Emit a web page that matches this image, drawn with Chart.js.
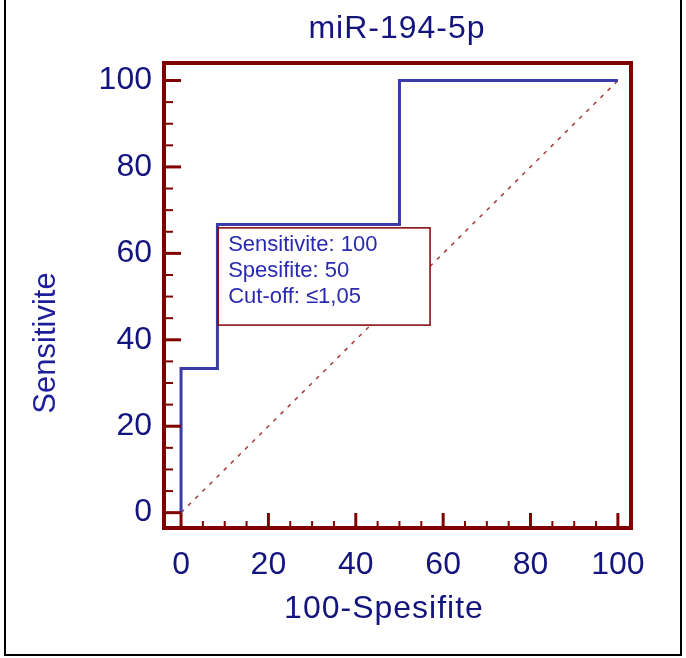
<!DOCTYPE html>
<html>
<head>
<meta charset="utf-8">
<script src="https://cdn.jsdelivr.net/npm/chart.js@4.4.1/dist/chart.umd.min.js"></script>
<style>
  html, body { margin: 0; padding: 0; background: #fff; }
  #wrap { width: 686px; height: 658px; position: relative; }
</style>
</head>
<body>
<div id="wrap"><canvas id="c"></canvas></div>
<script>
// ---- data ----
const chartTitle = "miR-194-5p";
const xTitle = "100-Spesifite";
const yTitle = "Sensitivite";
// ROC curve vertices
const fpr  = [0, 0,     8.33,  8.33,  50,    50,  100];   // 100-Spesifite
const sens = [0, 33.33, 33.33, 66.67, 66.67, 100, 100];   // Sensitivite
const refX = [0, 100];
const refY = [0, 100];
const majorTicks = [0, 20, 40, 60, 80, 100];
const minorTicks = [5, 10, 15, 25, 30, 35, 45, 50, 55, 65, 70, 75, 85, 90, 95];
const infoLines = ["Sensitivite: 100", "Spesifite: 50", "Cut-off: \u22641,05"];

const MAROON = '#800000';
const NAVY = '#14147f';
const CURVE = '#3a3aa8';
const FONT = '"Liberation Sans", Arial, sans-serif';

const allTicks = majorTicks.concat(minorTicks).sort((a, b) => a - b);

const decor = {
  id: 'decor',
  beforeDraw(chart) {
    const ctx = chart.ctx;
    ctx.save();
    ctx.fillStyle = '#fff';
    ctx.fillRect(0, 0, chart.width, chart.height);
    ctx.strokeStyle = '#000';
    ctx.lineWidth = 2;
    ctx.beginPath();
    ctx.moveTo(5, 0); ctx.lineTo(5, 655); ctx.lineTo(681, 655); ctx.lineTo(681, 0);
    ctx.stroke();
    ctx.restore();
  },
  afterDatasetsDraw(chart) {
    const ctx = chart.ctx;
    const a = chart.chartArea;
    const xs = chart.scales.x, ys = chart.scales.y;
    ctx.save();
    // info box
    const bx0 = xs.getPixelForValue(8.5), bx1 = xs.getPixelForValue(57);
    const by0 = ys.getPixelForValue(65.9), by1 = ys.getPixelForValue(43.4);
    ctx.fillStyle = '#fff';
    ctx.fillRect(bx0, by0, bx1 - bx0, by1 - by0);
    ctx.strokeStyle = MAROON;
    ctx.lineWidth = 1.5;
    ctx.strokeRect(bx0, by0, bx1 - bx0, by1 - by0);
    ctx.fillStyle = '#2a2ab0';
    ctx.font = '22px ' + FONT;
    ctx.textBaseline = 'alphabetic';
    ctx.textAlign = 'left';
    infoLines.forEach((t, i) => ctx.fillText(t, bx0 + 10, by0 + 23 + i * 26));

    // plot frame
    ctx.strokeStyle = MAROON;
    ctx.lineWidth = 4;
    ctx.strokeRect(a.left, a.top, a.right - a.left, a.bottom - a.top);

    // inward tick marks
    allTicks.forEach(v => {
      const major = majorTicks.includes(v);
      ctx.lineWidth = major ? 3 : 2;
      const px = xs.getPixelForValue(v);
      ctx.beginPath();
      ctx.moveTo(px, a.bottom);
      ctx.lineTo(px, a.bottom - (major ? 15 : 7));
      ctx.stroke();
      const py = ys.getPixelForValue(v);
      ctx.beginPath();
      ctx.moveTo(a.left, py);
      ctx.lineTo(a.left + (major ? 17 : 9), py);
      ctx.stroke();
    });

    // titles
    ctx.fillStyle = NAVY;
    ctx.textAlign = 'center';
    ctx.textBaseline = 'middle';
    ctx.font = '32px ' + FONT;
    ctx.letterSpacing = '1px';
    ctx.fillText(chartTitle, 397, 29);
    ctx.fillText(xTitle, 384, 609);
    ctx.save();
    ctx.translate(46, 343);
    ctx.rotate(-Math.PI / 2);
    ctx.font = '31px ' + FONT;
    ctx.fillStyle = '#1e1e9a';
    ctx.letterSpacing = '0px';
    ctx.fillText(yTitle, 0, 0);
    ctx.restore();
    ctx.restore();
  }
};

const tickOpts = {
  autoSkip: false,
  color: NAVY,
  font: { family: FONT, size: 32 },
  callback: (v) => majorTicks.includes(v) ? String(v) : ''
};

new Chart(document.getElementById('c'), {
  type: 'scatter',
  data: {
    datasets: [
      {
        data: fpr.map((x, i) => ({ x, y: sens[i] })),
        showLine: true,
        borderColor: CURVE,
        borderWidth: 3,
        borderJoinStyle: 'miter',
        pointRadius: 0,
        fill: false,
        order: 1
      },
      {
        data: refX.map((x, i) => ({ x, y: refY[i] })),
        showLine: true,
        borderColor: '#a83a3a',
        borderWidth: 1.5,
        borderDash: [4, 6],
        pointRadius: 0,
        fill: false,
        order: 2
      }
    ]
  },
  plugins: [decor],
  options: {
    responsive: true,
    maintainAspectRatio: false,
    animation: false,
    devicePixelRatio: 1,
    layout: { padding: { top: 63, right: 55, bottom: 0, left: 0 } },
    plugins: { legend: { display: false }, title: { display: false }, tooltip: { enabled: false } },
    scales: {
      x: {
        type: 'linear',
        min: -3.9, max: 103,
        grid: { display: false, drawTicks: false },
        border: { display: false },
        ticks: Object.assign({ padding: 18, maxRotation: 0 }, tickOpts),
        afterBuildTicks: (s) => { s.ticks = allTicks.map(v => ({ value: v })); },
        afterFit: (s) => { s.height = 130; }
      },
      y: {
        type: 'linear',
        min: -3.55, max: 104.05,
        grid: { display: false, drawTicks: false },
        border: { display: false },
        ticks: Object.assign({ padding: 12 }, tickOpts),
        afterBuildTicks: (s) => { s.ticks = allTicks.map(v => ({ value: v })); },
        afterFit: (s) => { s.width = 164; }
      }
    }
  }
});
</script>
</body>
</html>
